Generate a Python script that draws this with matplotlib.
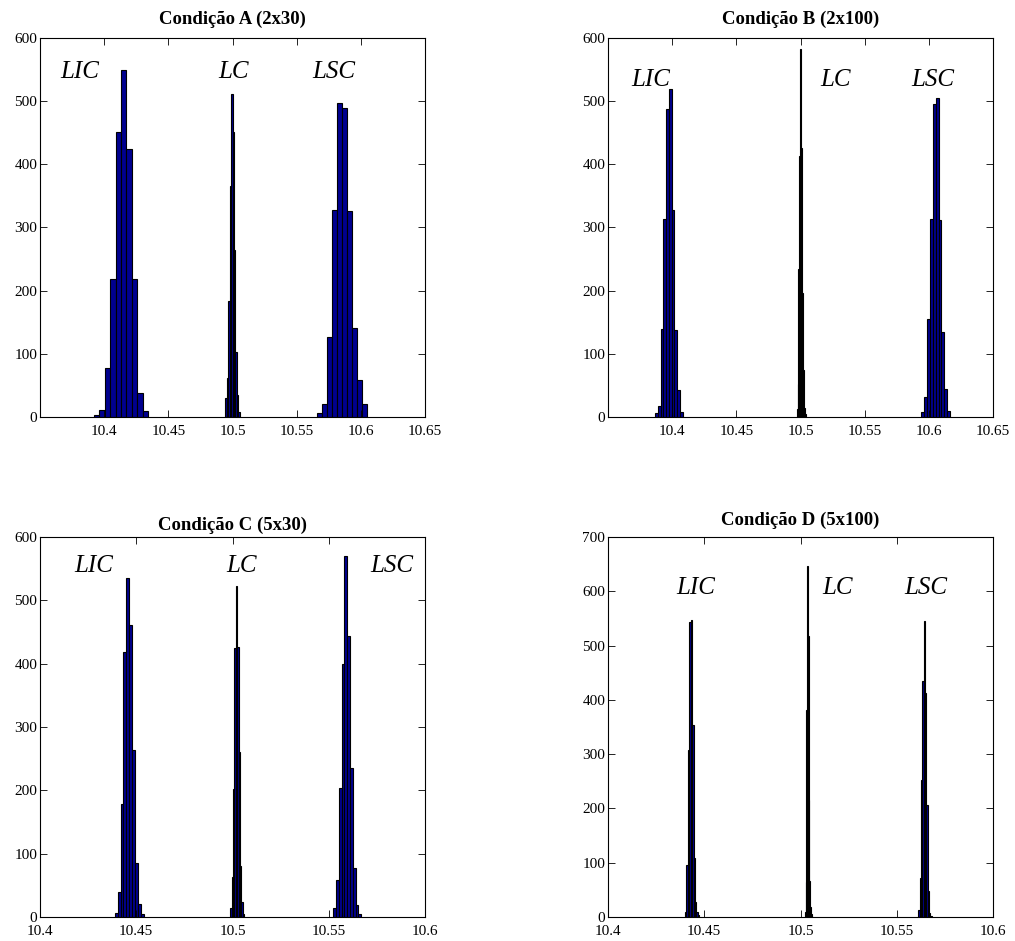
import numpy as np
import matplotlib
matplotlib.use("Agg")
import matplotlib.pyplot as plt

plt.rcParams['font.family'] = ['Liberation Serif', 'DejaVu Serif']

# Histogramas (10 classes cada): início da 1a classe, largura da classe, contagens
titles = ["Condição A (2x30)", "Condição B (2x100)", "Condição C (5x30)", "Condição D (5x100)"]
labels = ["LIC", "LC", "LSC"]

# Condição A
a_start = [10.3920, 10.4944, 10.5660]
a_width = [0.00422, 0.00112, 0.00389]
a_counts = [
    [3, 11, 78, 218, 451, 549, 424, 218, 38, 10],
    [30, 62, 184, 365, 511, 451, 264, 103, 35, 8],
    [6, 20, 127, 327, 497, 489, 326, 141, 58, 20],
]
# Condição B
b_start = [10.3866, 10.4970, 10.5940]
b_width = [0.00216, 0.00072, 0.00226]
b_counts = [
    [7, 18, 139, 313, 488, 519, 327, 138, 43, 8],
    [12, 52, 234, 413, 582, 426, 197, 75, 15, 4],
    [8, 31, 155, 314, 495, 505, 312, 134, 44, 9],
]
# Condição C
c_start = [10.4388, 10.4988, 10.5523]
c_width = [0.00152, 0.00072, 0.00145]
c_counts = [
    [7, 40, 178, 419, 536, 461, 263, 86, 21, 5],
    [14, 63, 202, 424, 522, 427, 260, 81, 23, 5],
    [15, 58, 204, 399, 570, 444, 236, 78, 19, 4],
]
# Condição D
d_start = [10.4400, 10.5023, 10.5612]
d_width = [0.00074, 0.00038, 0.00069]
d_counts = [
    [9, 96, 307, 544, 547, 353, 109, 28, 10, 4],
    [10, 65, 381, 646, 517, 215, 67, 18, 6, 2],
    [13, 71, 252, 434, 545, 413, 206, 47, 7, 2],
]

xlims = [(10.35, 10.65), (10.35, 10.65), (10.4, 10.6), (10.4, 10.6)]
xticks = [[10.4, 10.45, 10.5, 10.55, 10.6, 10.65]] * 2 + [[10.4, 10.45, 10.5, 10.55, 10.6]] * 2
ymax = [600, 600, 600, 700]
label_pos = [
    [(10.381, 546), (10.501, 546), (10.579, 546)],
    [(10.383, 533), (10.527, 533), (10.603, 533)],
    [(10.428, 554), (10.5045, 554), (10.583, 554)],
    [(10.4457, 606), (10.519, 606), (10.565, 606)],
]
title_pad = [10, 10, 5, 9]

starts = [a_start, b_start, c_start, d_start]
widths = [a_width, b_width, c_width, d_width]
counts = [a_counts, b_counts, c_counts, d_counts]

W, H = 1015, 941
fig = plt.figure(figsize=(W / 100, H / 100), dpi=100)
rects = [
    [40 / W, 1 - 417 / H, 385 / W, 379 / H],
    [608 / W, 1 - 417 / H, 385 / W, 379 / H],
    [40 / W, 1 - 917 / H, 385 / W, 380 / H],
    [608 / W, 1 - 917 / H, 385 / W, 380 / H],
]

for k in range(4):
    ax = fig.add_axes(rects[k])
    for j in range(3):
        n = len(counts[k][j])
        edges = starts[k][j] + widths[k][j] * np.arange(n)
        ax.bar(edges, counts[k][j], width=widths[k][j], align='edge',
               color='#00008F', edgecolor='black', linewidth=0.8)
        lx, ly = label_pos[k][j]
        ax.text(lx, ly, labels[j], fontsize=18, style='italic', ha='center', va='center')
    ax.set_xlim(xlims[k])
    ax.set_ylim(0, ymax[k])
    ax.set_xticks(xticks[k])
    ax.set_xticklabels([f"{t:g}" for t in xticks[k]])
    ax.set_yticks(np.arange(0, ymax[k] + 1, 100))
    ax.tick_params(direction='in', top=True, right=True, labelsize=11, length=5, width=0.6)
    ax.tick_params(axis='x', pad=6)
    ax.tick_params(axis='y', pad=2)
    for s in ax.spines.values():
        s.set_linewidth(0.8)
    ax.set_title(titles[k], fontsize=13.5, fontweight='bold', pad=title_pad[k])

fig.savefig("out.png", dpi=100)
